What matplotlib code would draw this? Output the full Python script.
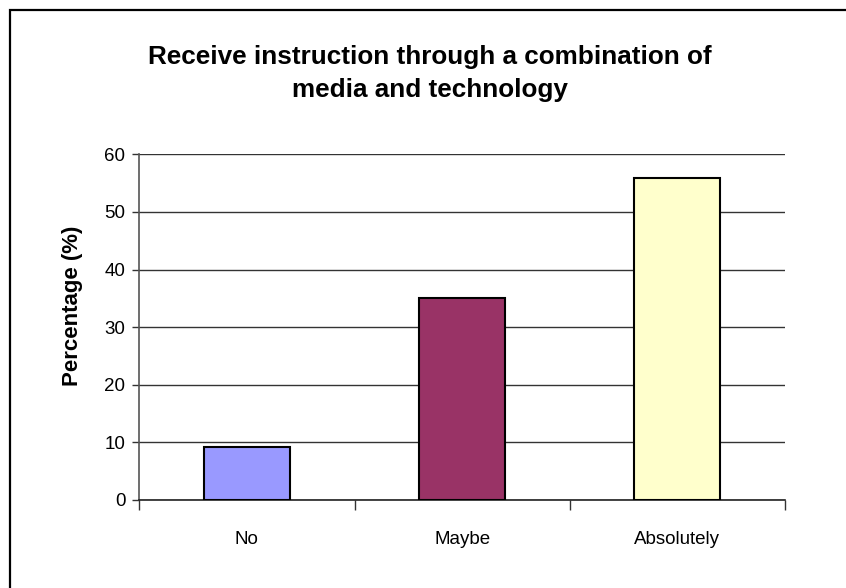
import matplotlib
matplotlib.use("Agg")
import matplotlib.pyplot as plt
from matplotlib.patches import Rectangle
from matplotlib.ticker import FixedLocator, NullFormatter

categories = ["No", "Maybe", "Absolutely"]
percentages = [9.2, 35.0, 55.8]
bar_colors = ["#9999FF", "#993366", "#FFFFCC"]
y_ticks = [0, 10, 20, 30, 40, 50, 60]
title = "Receive instruction through a combination of\nmedia and technology"
y_label = "Percentage (%)"

plt.rcParams["font.family"] = ["Liberation Sans", "DejaVu Sans"]

W, H = 846, 588
fig = plt.figure(figsize=(W / 100, H / 100), dpi=100)
fig.patch.set_facecolor("white")

# chart frame (top-left corner visible)
fig.patches.append(Rectangle((9.5 / W, -0.1), 1.2, 1.1 - 9.5 / H,
                             transform=fig.transFigure, fill=False,
                             edgecolor="black", linewidth=1.6))

ax = fig.add_axes([139.3 / W, 88 / H, (785 - 139.3) / W, (500 - 154.3) / H])
x = list(range(len(categories)))
ax.bar(x, percentages, width=0.4, color=bar_colors, edgecolor="black",
       linewidth=1.5, zorder=3)

ax.set_xlim(-0.5, len(categories) - 0.5)
ax.set_ylim(0, 60)
ax.set_yticks(y_ticks)
ax.yaxis.grid(True, color="#333333", linewidth=1.0, zorder=0)
ax.set_axisbelow(True)

ax.set_xticks(x)
ax.set_xticklabels(categories, fontsize=13.5)
ax.tick_params(axis="x", which="major", length=0, pad=22)
ax.xaxis.set_minor_locator(FixedLocator([i - 0.5 for i in range(len(categories) + 1)]))
ax.xaxis.set_minor_formatter(NullFormatter())
ax.tick_params(axis="x", which="minor", length=7, width=1.0, color="#333333")
ax.tick_params(axis="y", length=5, width=1.0, color="#333333", labelsize=13.5, pad=5)

for side in ("top", "right"):
    ax.spines[side].set_visible(False)
ax.spines["left"].set_color("#555555")
ax.spines["left"].set_linewidth(1.2)
ax.spines["bottom"].set_color("#222222")
ax.spines["bottom"].set_linewidth(1.2)

ax.set_ylabel(y_label, fontsize=16, fontweight="bold", va="center")
ax.yaxis.set_label_coords(-0.104, 0.561)
fig.text(430 / W, 1 - 73.5 / H, title, ha="center", va="center",
         fontsize=18.8, fontweight="bold", linespacing=1.45)

fig.savefig("out.png", dpi=100)
